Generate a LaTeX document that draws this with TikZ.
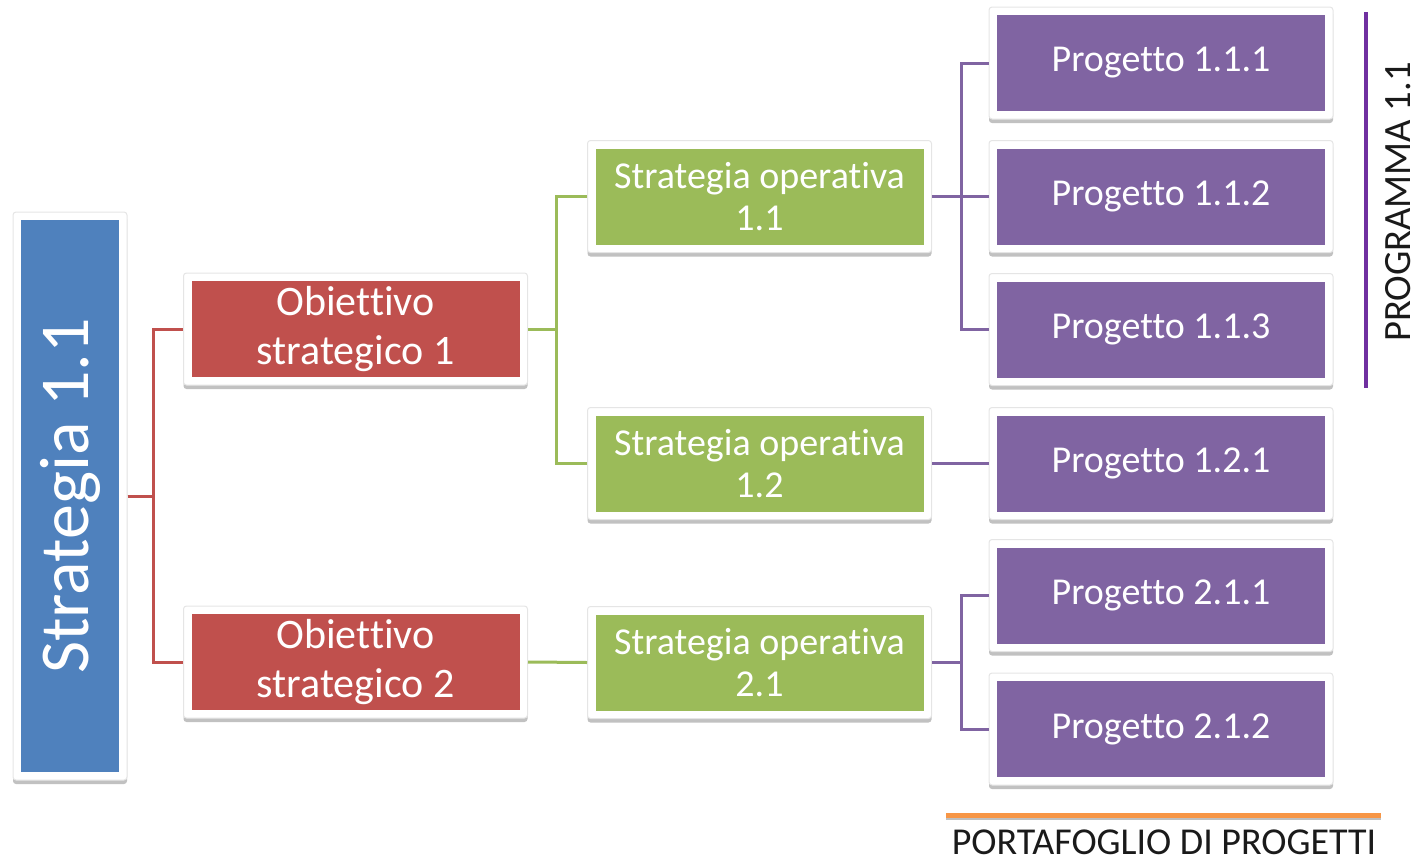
\documentclass[tikz,border=0pt]{standalone}
\usepackage{fontspec}
\setmainfont[Ligatures={NoCommon}]{Carlito}
\usetikzlibrary{shadows}
\definecolor{cblue}{HTML}{4F81BD}
\definecolor{cred}{HTML}{C0504D}
\definecolor{cgreen}{HTML}{9BBB59}
\definecolor{cpurple}{HTML}{8064A2}
\definecolor{cprog}{HTML}{7030A0}
\definecolor{corange}{HTML}{F79646}
\definecolor{ctext}{HTML}{1A1A1A}
\tikzset{
  frame/.style={fill=white, draw=black!10, line width=0.5pt, rounded corners=1.5pt,
    drop shadow={shadow xshift=0pt, shadow yshift=-2pt, opacity=0.35, fill=black!70},
    path picture={\fill[#1, sharp corners] ([shift={(4pt,-4pt)}]path picture bounding box.north west)
      rectangle ([shift={(-4pt,4pt)}]path picture bounding box.south east);},
    inner sep=0pt, align=center, text=white},
  box/.style={frame=#1, minimum width=172pt, minimum height=56pt,
    font=\fontsize{19}{21}\selectfont},
  objbox/.style={box=cred, font=\fontsize{21}{24.5}\selectfont},
  link/.style={draw=#1, line width=1.5pt},
}
\begin{document}
\begin{tikzpicture}[x=0.5pt,y=-0.5pt]
\useasboundingbox (0,0) rectangle (1420,862);

% main strategy column
\node[frame=cblue, minimum width=57pt, minimum height=284pt] (strat) at (70,496) {};
\node[rotate=90, text=white, font=\fontsize{35}{40}\selectfont] (strattext) at (strat) {Strategia 1.1};

% strategic objectives
\node[objbox] (o1) at (355.5,329) {Obiettivo\\strategico 1};
\node[objbox] (o2) at (355.5,662) {Obiettivo\\strategico 2};

% operative strategies
\node[box=cgreen] (so11) at (759.5,196.5) {Strategia operativa\\1.1};
\node[box=cgreen] (so12) at (759.5,463.5) {Strategia operativa\\1.2};
\node[box=cgreen] (so21) at (759.5,662.5) {Strategia operativa\\2.1};

% projects
\node[box=cpurple] (p111) at (1161,63)    {Progetto 1.1.1};
\node[box=cpurple] (p112) at (1161,196.5) {Progetto 1.1.2};
\node[box=cpurple] (p113) at (1161,329.5) {Progetto 1.1.3};
\node[box=cpurple] (p121) at (1161,463.5) {Progetto 1.2.1};
\node[box=cpurple] (p211) at (1161,595.5) {Progetto 2.1.1};
\node[box=cpurple] (p212) at (1161,729)   {Progetto 2.1.2};

% connectors
\draw[link=cred] (strat.east) -- ++(26,0) |- (o1.west);
\draw[link=cred] (strat.east) -- ++(26,0) |- (o2.west);

\draw[link=cgreen] (o1.east) -- ++(28.5,0) |- (so11.west);
\draw[link=cgreen] (o1.east) -- ++(28.5,0) |- (so12.west);
\draw[link=cgreen] (o2.east) -- (so21.west);

\draw[link=cpurple] (so11.east) -- ++(29,0) |- (p111.west);
\draw[link=cpurple] (so11.east) -- ++(29,0) |- (p112.west);
\draw[link=cpurple] (so11.east) -- ++(29,0) |- (p113.west);
\draw[link=cpurple] (so12.east) -- (p121.west);
\draw[link=cpurple] (so21.east) -- ++(29,0) |- (p211.west);
\draw[link=cpurple] (so21.east) -- ++(29,0) |- (p212.west);

% programme bracket
\coordinate (prgtop) at (1366,12);
\coordinate (prgbot) at (1366,388);
\draw[draw=cprog, line width=1.6pt] (prgtop) -- (prgbot);
\node[rotate=90, text=ctext, font=\fontsize{19.3}{22}\selectfont] (prglabel) at (1398,202) {PROGRAMMA 1.1};

% portfolio bar
\coordinate (pfl) at (946,815);
\coordinate (pfr) at (1381,815);
\draw[draw=black!25, line width=2.5pt] ([yshift=-1pt]pfl) -- ([yshift=-1pt]pfr);
\draw[draw=corange, line width=2.5pt] (pfl) -- (pfr);
\node[text=ctext, font=\fontsize{19}{22}\selectfont] (pflabel) at (1164,842) {PORTAFOGLIO DI PROGETTI};
\end{tikzpicture}
\end{document}
